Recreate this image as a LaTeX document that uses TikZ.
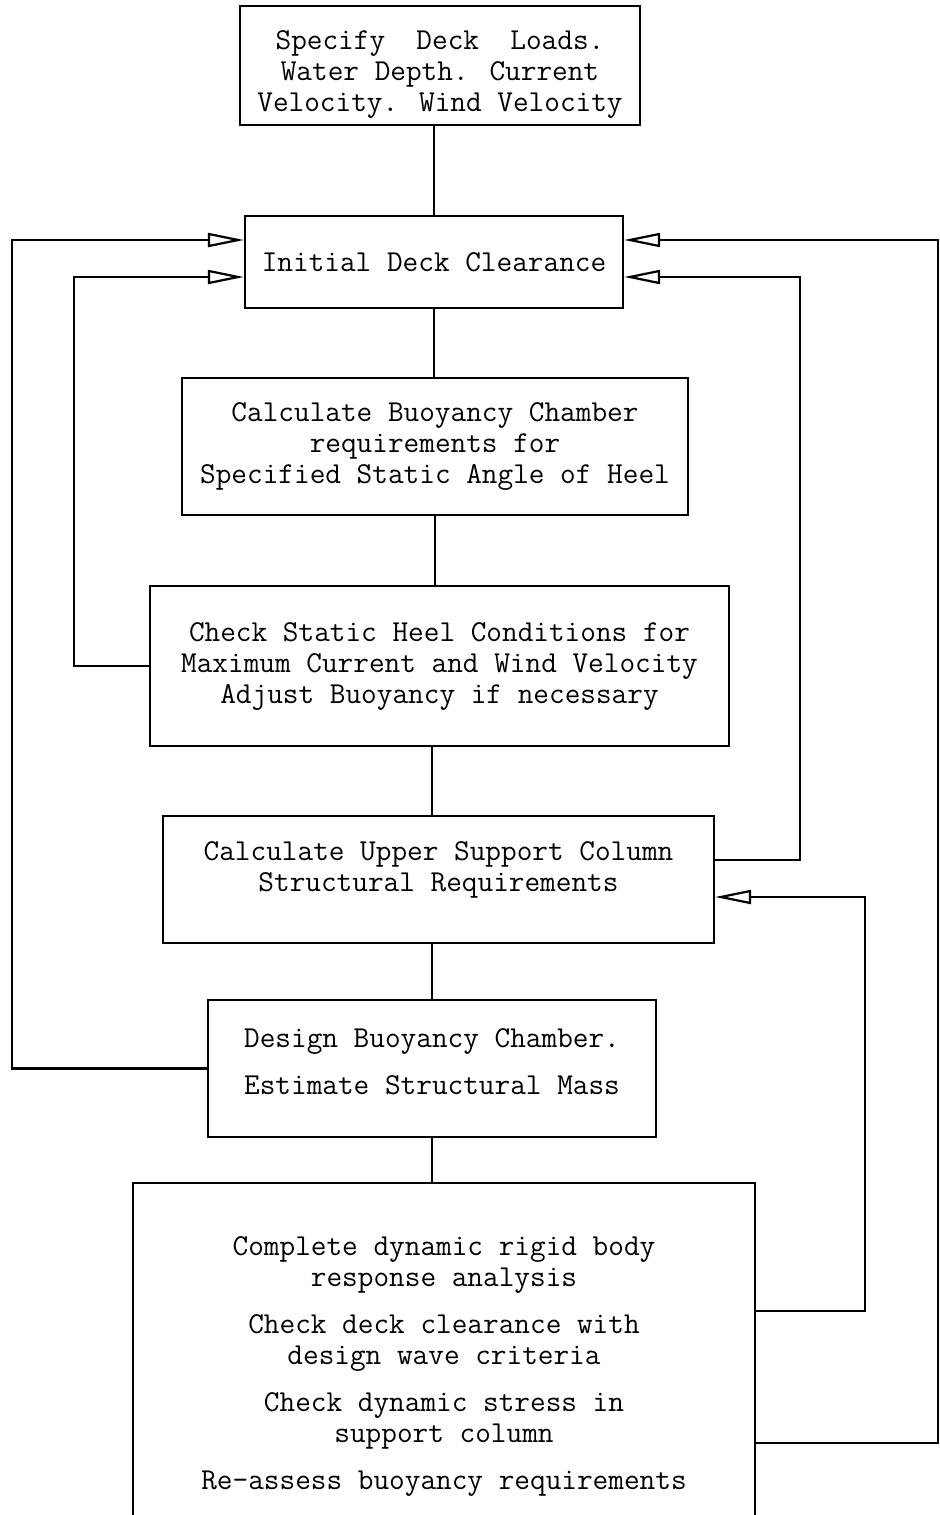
\documentclass[tikz,border=0pt]{standalone}
\usepackage{tikz}
\usetikzlibrary{arrows.meta,calc}

\begin{document}
\begin{tikzpicture}[
  x=0.5pt, y=-0.5pt,
  box/.style={draw, line width=1.1pt, align=center, inner sep=0pt, font=\ttfamily\fontsize{15.2pt}{15.5pt}\selectfont},
  link/.style={line width=1.1pt},
  arrow/.style={link, -{Triangle[open, length=18pt, width=7pt, line width=1.1pt]}}
]
\useasboundingbox (0,0) rectangle (940,1515);
\node[box, minimum width=200pt, minimum height=59.5pt] (specify) at (440,65.5) {\rule{0pt}{18pt}Specify\ \ Deck\ \ Loads.\\Water Depth. Current\\Velocity. Wind Velocity};
\node[box, minimum width=189pt, minimum height=46pt] (clearance) at (434,262) {Initial Deck Clearance};
\node[box, minimum width=253pt, minimum height=68.5pt] (chamber) at (435,446.5) {Calculate Buoyancy Chamber\\requirements for\\Specified Static Angle of Heel};
\node[box, minimum width=289.5pt, minimum height=80pt] (heel) at (439.5,666) {Check Static Heel Conditions for\\Maximum Current and Wind Velocity\\Adjust Buoyancy if necessary};
\node[box, minimum width=275.5pt, minimum height=63.5pt] (column) at (438.5,879.5) {Calculate Upper Support Column\\Structural Requirements\\[-3pt]\mbox{}};
\node[box, minimum width=224pt, minimum height=68.5pt] (design) at (432,1068.5) {Design Buoyancy Chamber.\\[8pt]Estimate Structural Mass\\[-9pt]\mbox{}};
\node[box, minimum width=311pt, minimum height=171pt] (dynamic) at (444,1354) {\rule{0pt}{22pt}Complete dynamic rigid body\\response analysis\\[8pt]Check deck clearance with\\design wave criteria\\[8pt]Check dynamic stress in\\support column\\[8pt]Re-assess buoyancy requirements};
% main sequence
\draw[link] (clearance.north) -- (clearance.north |- specify.south);
\draw[link] (clearance.south) -- (clearance.south |- chamber.north);
\draw[link] (chamber.south) -- (chamber.south |- heel.north);
\draw[link] (heel.south -| design.north) -- (column.north -| design.north);
\draw[link] (design.north) -- (design.north |- column.south);
\draw[link] (design.south) -- (design.south |- dynamic.north);
% feedback loops
\draw[arrow] (design.west) -| (12,240) -- ([yshift=11pt]clearance.west);
\draw[arrow] (heel.west) -| (74,277) -- ([yshift=-7.5pt]clearance.west);
\draw[arrow] ([yshift=9.75pt]column.east) -| (800,277) -- ([yshift=-7.5pt]clearance.east);
\draw[arrow] ([yshift=21.5pt]dynamic.east) -| (865,897) -- ([yshift=-8.75pt]column.east);
\draw[arrow] ([yshift=-44.5pt]dynamic.east) -| (938,240) -- ([yshift=11pt]clearance.east);
\end{tikzpicture}
\end{document}
